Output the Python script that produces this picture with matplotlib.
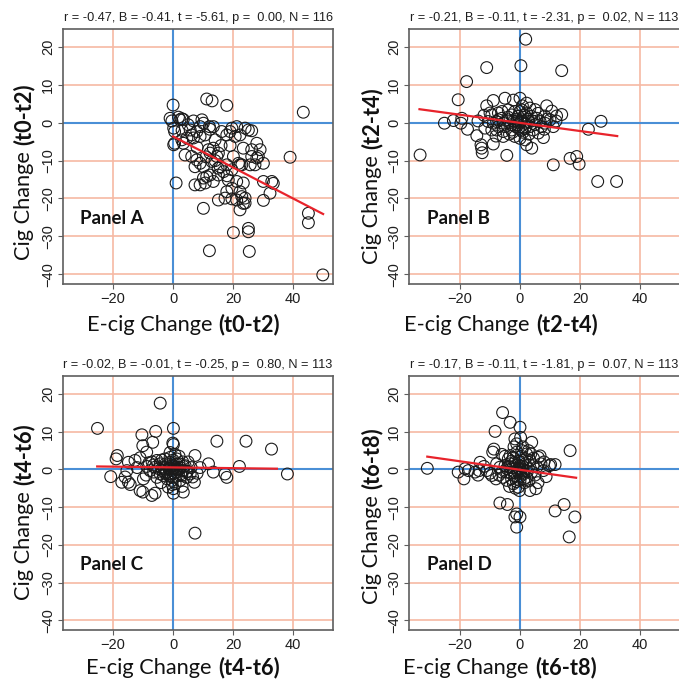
import numpy as np
import matplotlib
matplotlib.use("Agg")
import matplotlib.pyplot as plt

# ---- data ----
periods = ["t0-t2", "t2-t4", "t4-t6", "t6-t8"]
panel_names = ["Panel A", "Panel B", "Panel C", "Panel D"]
stats = ["r = -0.47, B = -0.41, t = -5.61, p =  0.00, N = 116",
         "r = -0.21, B = -0.11, t = -2.31, p =  0.02, N = 113",
         "r = -0.02, B = -0.01, t = -0.25, p =  0.80, N = 113",
         "r = -0.17, B = -0.11, t = -1.81, p =  0.07, N = 113"]

a_pts = [(0, 4.7), (-1, 1.2), (11.2, 6.3), (13, 5.8), (17.9, 4.6), (43.4, 2.8),
         (1.8, 1.5), (2.9, 1.1), (2.3, 0.8), (3.4, 0.9), (-0.4, 0.5),
         (6.8, 0.5), (9.6, 0.8), (10.1, -0.1), (12.1, -1), (13.4, -1), (12.3, -1.7),
         (5.7, -1.9), (7.9, -2.3), (6.2, -3.2), (4.6, -4), (6.8, -4), (9, -3.6), (10.7, -3.2),
         (0.2, -1.4), (0.5, -2.3), (0.5, -5.4), (0.2, -5.8), (2.9, -4.5), (3.4, -5.4),
         (16.2, -2.3), (17.9, -3.2), (19.6, -1.4), (21.2, -1), (24, -1.4), (25.1, -1.9),
         (22.3, -3.2), (20.7, -3.6), (19, -2.3), (26.2, -2.1),
         (23.4, -6.7), (26.2, -7.1), (27.9, -5.4), (29, -7.1), (28.4, -8.9), (26.2, -8.9),
         (27.3, -11.1), (30.1, -10.7), (25.7, -11.1), (22.3, -11.1),
         (4, -8.5), (6.2, -8.9), (7.9, -9.8), (9, -10.7), (7.3, -11.6), (10.1, -11.6),
         (12.9, -10.2), (14.6, -8.9), (15.1, -8), (13.4, -6.7), (11.8, -7.1), (12.3, -8),
         (15.7, -11.6), (16.8, -12.9), (15.1, -13.8), (12.3, -13.8), (11.2, -14.2),
         (10.1, -14.6), (9, -16.4), (7.3, -16.4), (10.7, -15.9), (13.4, -15.5), (17.9, -11.1),
         (19.6, -12.4), (21.8, -10.7), (22.9, -11.1), (21.2, -15.5), (23.4, -15.9), (18.4, -15.1),
         (1, -15.9),
         (15.1, -20.4), (17.3, -19.9), (19.6, -20.1), (21.2, -20.4), (22.9, -19.5), (24, -19.9),
         (23.4, -21.3), (17.9, -18.2), (19.6, -17.3), (22.3, -18.2), (10.1, -22.6), (22.3, -23),
         (24, -21.2),
         (39, -9.1), (30.1, -15.5), (32.9, -15.5), (33.4, -16), (32.3, -18.6), (30.1, -20.5),
         (45.1, -23.9), (45.1, -26.4), (49.9, -40.2), (20.1, -29), (25.1, -27.9), (25.1, -28.8),
         (25.4, -34), (12.1, -33.8),
         (20.1, -8.9), (27.9, -9.3), (14, -4.5), (16, -6), (8, -6.5), (5, -0.5), (9, -1),
         (15, -12), (18, -14), (3, -2), (11, -9), (14, -10), (19, -6)]

b_pts = [(1.9, 22.1), (0.3, 15.1), (-11.1, 14.6), (13.9, 13.8), (-17.8, 10.9), (-20.6, 6.1),
         (-33.3, -8.5),
         (-25.2, -0.1), (-22.2, 0.6), (-19.7, -0.1), (-19.4, 1.2), (-17.5, -1.7),
         (-14.4, -3.4), (-13, -5.8), (-12.8, -6.7), (-12.6, -7.9), (-8.9, -5.6), (-4.4, -8.6),
         (-11.1, 4.5), (-8.9, 5.9), (-5, 6.5), (-2.2, 6), (0, 6.5), (2.2, 5.2),
         (8.9, 4.5), (10.6, 3.1), (12.2, 1.8), (13.9, 2.2), (8.3, 1.8), (8.1, -1.7), (7.8, -3.9),
         (27, 0.4), (22.8, -1.7), (11.1, -11.1), (16.7, -9.4), (18.9, -8.9), (19.7, -10.9),
         (25.9, -15.5), (32.2, -15.5),
         (-9.4, 2.1), (-7.2, 2.6), (-6.1, 1.2), (-7.8, 0.35), (-10.6, 0.35), (-11.7, -1.4),
         (-9.4, -1.9), (-7.2, -1), (-5, -1), (-2.8, -1.9), (-1.7, -3.6), (0, -4.1), (1.7, -4.5),
         (2.2, -5.8), (3.9, -6.7), (-5.6, -3.6), (-3.9, 3.4), (-2.8, 2.1), (-1.7, 3), (-0.6, 1.7),
         (0.6, 3.4), (2.2, 2.6), (3.3, 3.9), (3.9, 1.7), (5.6, 1.2), (6.7, 0.35), (5, -0.5),
         (3.3, -1), (1.7, -1.4), (-0.6, -0.5), (-2.2, 0.35), (-3.9, 0.8), (-5.6, -0.1), (-7.2, 0.8),
         (0.6, 0.8), (1.7, -0.1), (2.8, 0.35), (4.4, -1.9), (6.1, -2.7), (7.2, -1), (8.3, -0.1),
         (10, 0.8), (11.1, -1), (-5.6, -2.3), (-7.8, -1.9), (-8.9, -0.1), (-10, 2.6),
         (0.2, 0.2), (-1, 1), (1, 1.5), (-1.5, -1), (0.5, -2), (2.5, 1), (-3, -0.5), (4, 0.5),
         (-4, 1.5), (1.5, 2), (-2.5, -2.5), (3, -3), (0, 3), (-0.5, -1.5), (6, 2.5), (-6, 3),
         (1, -2.5), (2, -1), (-1, 0.5), (0.8, 4.5), (-3.5, -3), (5, 3.5), (-12, 2), (-14, 0.5),
         (9, 1), (-8, -3.5), (12, 0.5)]

c_pts = [(-4.3, 17.6), (-25.2, 10.9), (0.1, 10.9), (-10.4, 9.2), (-5.8, 10.1), (-10.1, 6.3),
         (-6.8, 7.2), (-8.8, 4.6), (-0.1, 7), (0.1, 6.6), (14.6, 7.5), (24.3, 7.5), (32.8, 5.4),
         (-18.6, 3.7), (-19, 2.8), (-14.9, 1.9), (-12.7, 2.4), (-11, 3.1),
         (-20.8, -1.9), (-17.1, -3.4), (-14.9, -3.4), (-14.3, -4), (-11, -5.6), (-10.1, -6),
         (-7.1, -6.9), (-6, -6.3), (-9.9, -2.5), (-15.4, -0.3),
         (7.3, -16.9), (7.1, -3.4), (3.4, -6), (0.1, -6.3), (7.3, 3.7), (11.8, 1.5), (13.4, -0.7),
         (17.3, -1.2), (17.9, -2.1), (22.1, 0.8), (38.1, -1.2),
         (-5.4, 2.4), (-4.3, 1.5), (-3.2, 0.6), (-2.1, 1), (-1, 1.9), (1.2, 1.5), (2.3, 0.6),
         (3.4, -0.3), (4.5, -0.7), (5.7, -1.2), (-2.1, -0.7), (-3.2, -1.6), (-4.3, -1.2),
         (-6.5, -0.7), (-5.4, -2.1), (-1, -1.2), (0.1, 0.2), (1.2, -0.7), (2.9, -1.6), (-0.4, -2.9),
         (0.7, -3.8), (-1.6, -4.7), (0.1, -5.1), (2.3, -2.9), (4.5, -2.1), (-2.7, 2.8), (-1, 3.2),
         (1.2, 2.8), (-6, 0.6), (-7.7, -0.3), (-8.8, 0.8),
         (0.5, 0.5), (-0.5, -0.3), (1.5, 0.2), (-1.5, 0.3), (0, 1), (2, 1.5), (-3, 0.2), (4, 1),
         (6, 0.5), (-2, -2.5), (1, -1.8), (3, -4.5), (-4, -3.5), (5, 2), (-7, 2), (-9, -1.5),
         (-12, 0.5), (-16, -2), (9, 0.5), (-1, 4.5),
         (0, 2.5), (0.3, -1), (-0.8, 0.8), (1.8, -0.2), (-2.5, 1.5), (2.5, -1.2), (-3.5, -0.3),
         (3.5, 0.8), (-4.8, 0.2), (4.8, -0.5), (0.6, 4), (-0.3, -4), (6.5, -2), (-6.5, 1.2),
         (1, 0), (-1.2, -1.8), (2, 3.5), (-2.5, -1.1), (3.2, 2), (-3.8, 2.5), (8, -1), (-8, 1.8),
         (0, -2)]

d_pts = [(-30.9, 0.3), (-5.8, 15.1), (-3.3, 12.5), (0, 11.2), (0.2, 8.5), (-8.3, 10.1),
         (-1.7, 8.1), (-1.1, 6.8), (-8.7, 5.4), (-9.1, 4.6), (3.9, 7.2), (16.7, 5),
         (-20.6, -0.7), (-18.3, 0.2), (-18.7, -2.5), (-17.2, -0.3), (-15, -0.7), (-13.3, 1.9),
         (-13.6, -0.3), (-11.1, -0.3), (-9.4, -1.6),
         (-6.7, -8.9), (-4.2, -9.3), (-1.1, -11.8), (-1.7, -12.6), (0, -12.6), (-1.1, -15.3),
         (11.7, -11), (14.7, -9.3), (18.3, -12.6), (16.4, -17.9), (3.3, -5.6), (5.3, -5.1),
         (-0.2, -5.6), (6.1, 3.2), (6.7, 3.6), (8.7, -1.9), (9.8, 1), (10.2, 1.3), (11.7, 1.3),
         (7.8, -0.3),
         (-7.8, 1.5), (-6.7, 0.6), (-5, 1), (-3.9, 2.8), (-3.3, 3.7), (-2.2, 3.2), (-1.1, 4.6),
         (0.6, 5), (2.2, 4.1), (2.8, 5), (1.7, 2.8), (3.3, 2.4), (4.4, 1), (5.6, 0.6), (-4.4, -0.7),
         (-5.6, -2.1), (-4.4, -2.9), (-2.8, -2.5), (-1.7, -1.6), (-0.6, -0.7), (0.6, 0.2),
         (1.1, -1.2), (2.2, -2.1), (0, -2.9), (-2.2, -3.8), (-0.6, -4.7), (-3.3, 1.5), (-1.7, 1.9),
         (0, 1), (0.9, 2.4), (-4.4, 0.2), (-6.1, -0.7), (3.9, -0.7),
         (-0.5, 0.3), (0.3, -0.3), (1, 0.8), (-1, -0.2), (0.5, 3.5), (-2.5, 0.5), (2.5, -0.5),
         (-3, -1), (1.5, -3.5), (-1.5, -5), (4.5, 3), (-5, 3.5), (-7, -1.5), (7, 1.5), (-10, -1),
         (-12, 0.8), (3, -3), (-2, 6), (1, 6), (-3.5, -4.5), (5, -1.5),
         (0, 0), (-0.8, 1.2), (0.8, -0.8), (1.8, 1.5), (-1.8, -0.8), (2.8, 0.3), (-2.8, 2.2),
         (3.6, 4.2), (-3.6, 0.8), (0.2, -1.8), (-0.4, 2.2), (1.4, -2.5), (-1.2, -3.2), (-6, 4),
         (6, -3.5), (-8, -2.5), (8, 2), (-14, -1.5)]

# fitted lines (end points)
fit_x = [(0, 50), (-33.5, 32.4), (-25.3, 34.6), (-30.9, 18.7)]
fit_y = [(-3.6, -24.1), (3.6, -3.5), (0.8, 0.2), (3.4, -2.2)]

xticks = [-20, 0, 20, 40]
yticks = [-40, -30, -20, -10, 0, 10, 20]

# ---- styles ----
GRID = "#f6b9a3"
BLUE = "#4a8fd6"
RED = "#e8232b"
SPINE = "#5e5e5e"
LABFONT = "Lato"
TICKFONT = "Liberation Sans"

W, H = 679, 680
fig = plt.figure(figsize=(W / 100, H / 100), dpi=100)

# axes boxes in pixels: left, top, right, bottom, xmin
boxes = [(63, 29, 333, 284, -36.7),
         (409, 29, 684, 284, -37.0),
         (63, 376, 333, 630, -36.7),
         (409, 376, 684, 630, -37.0)]
px_per_x = 3.0

all_pts = [a_pts, b_pts, c_pts, d_pts]
for i, (l, t, r, b, xmin) in enumerate(boxes):
    ax = fig.add_axes([l / W, 1 - b / H, (r - l) / W, (b - t) / H])
    ax.set_xlim(xmin, xmin + (r - l) / px_per_x)
    ax.set_ylim(-42.6, 24.8)
    ax.set_xticks(xticks)
    ax.set_yticks(yticks)
    for v in xticks:
        ax.axvline(v, color=GRID, lw=1.2, zorder=0)
    for v in yticks:
        ax.axhline(v, color=GRID, lw=1.2, zorder=0)
    ax.axvline(0, color=BLUE, lw=1.5, zorder=1)
    ax.axhline(0, color=BLUE, lw=1.5, zorder=1)

    px, py = zip(*all_pts[i])
    ax.scatter(px, py, s=72, facecolors="none", edgecolors="#1a1a1a",
               linewidths=0.8, zorder=3)
    ax.plot(fit_x[i], fit_y[i], color=RED, lw=1.6, zorder=4)

    ax.text(-31, -25.3, panel_names[i], fontsize=13.5, fontweight="bold",
            family=LABFONT, va="center", ha="left", color="#111111")

    for s in ax.spines.values():
        s.set_color(SPINE)
        s.set_linewidth(1.2)
    ax.tick_params(length=3.5, width=0.8, color=SPINE, labelsize=10.5,
                   labelcolor="#1e1e1e", pad=2)
    for lab in ax.get_xticklabels() + ax.get_yticklabels():
        lab.set_family(TICKFONT)
    for lab in ax.get_yticklabels():
        lab.set_rotation(90)
        lab.set_va("center")

    # stats line above each panel, centred on a 270 px wide box
    ax.text(135 / (r - l), 1 + 11 / (b - t), stats[i], transform=ax.transAxes,
            ha="center", va="center", fontsize=9.2, family=TICKFONT, color="#1e1e1e")

# ---- axis labels with a bold part ----
renderer = fig.canvas.get_renderer()
SIZE = 15.7


def mixed(x_px, y_px, plain, bold, vertical=False):
    t1 = fig.text(0, 0, plain, fontsize=SIZE, family=LABFONT, color="#111111")
    t2 = fig.text(0, 0, bold, fontsize=SIZE, family=LABFONT, fontweight="bold",
                  color="#111111")
    w1 = t1.get_window_extent(renderer).width
    w2 = t2.get_window_extent(renderer).width
    gap = 0.27 * SIZE * 100 / 72
    total = w1 + gap + w2
    if not vertical:
        x0 = x_px - total / 2
        for t, xx in ((t1, x0), (t2, x0 + w1 + gap)):
            t.set_position((xx / W, 1 - y_px / H))
            t.set_ha("left")
            t.set_va("baseline")
    else:
        y0 = y_px + total / 2   # bottom end of the text, pixels from top
        for t, yy in ((t1, y0), (t2, y0 - w1 - gap)):
            t.set_rotation(90)
            t.set_rotation_mode("anchor")
            t.set_position((x_px / W, 1 - yy / H))
            t.set_ha("left")
            t.set_va("center")


xlab_pos = [(183, 331), (501, 331), (183, 674), (500, 674)]
ylab_pos = [(24, 172), (372, 176), (24, 512), (372, 516)]
for i, p in enumerate(periods):
    mixed(xlab_pos[i][0], xlab_pos[i][1], "E-cig Change", "(" + p + ")")
    mixed(ylab_pos[i][0], ylab_pos[i][1], "Cig Change", "(" + p + ")", vertical=True)

fig.savefig("out.png", dpi=100, facecolor="white")
